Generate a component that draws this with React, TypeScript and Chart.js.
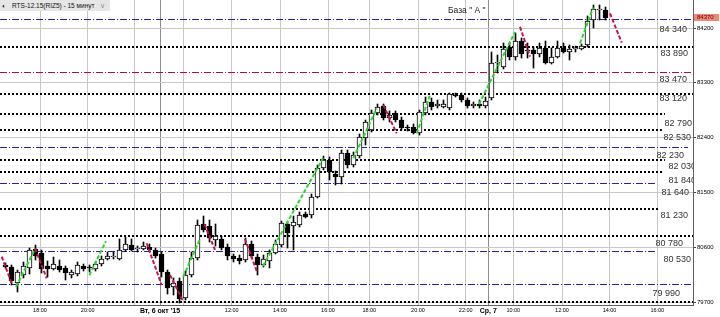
import React, { useEffect, useRef } from 'react';
import { Chart, registerables } from 'chart.js';

Chart.register(...registerables);

const FONT = '"Liberation Sans", Arial, sans-serif';

// 15-minute bars, index 0..100
const OPEN = [80310,80270,80010,80140,80260,80570,80500,80290,80250,80290,
80260,80140,80160,80290,80270,80250,80320,80410,80440,80410,
80560,80640,80570,80570,80610,80560,80490,80190,79950,80040,
79770,80140,80420,80980,80950,80720,80730,80600,80450,80420,
80390,80660,80440,80310,80370,80510,80640,80980,80950,80960,
81150,81130,81430,81900,82030,81810,81760,82140,81950,82090,
82390,82520,82800,82920,82720,82800,82690,82560,82580,82470,
82800,82990,82920,82910,82880,83100,83100,83010,82920,82950,
82920,83050,83630,83560,83880,83720,83990,83840,83840,83770,
83870,83630,83730,83870,83810,83850,83850,83920,84330,84500,
84500];
const HIGH = [80340,80310,80230,80360,80590,80640,80550,80370,80440,80390,
80290,80230,80350,80320,80310,80360,80460,80520,80520,80730,
80770,80730,80620,80680,80650,80590,80520,80230,80090,80090,
80210,80520,81050,81110,81050,80980,80780,80650,80490,80470,
80750,80700,80490,80470,80550,80720,81030,81010,81110,81180,
81180,81470,81950,82090,82080,81850,82200,82200,82160,82460,
82690,82850,82950,82960,82830,82840,82740,82610,82620,82850,
83070,83050,83020,83020,83130,83140,83130,83050,82980,83020,
83070,83810,83760,83950,83950,84120,84040,83950,83890,83950,
83980,83870,83980,83950,83920,83900,83940,84400,84580,84580,
84540];
const LOW = [80260,79980,79860,80090,80160,80390,80180,80110,80230,80190,
80060,80090,80130,80210,80190,80210,80290,80390,80410,80390,
80540,80540,80520,80550,80520,80420,80110,79830,79820,79680,
79730,80110,80390,80850,80690,80620,80550,80390,80360,80320,
80360,80420,80140,80270,80260,80490,80600,80590,80550,80930,
81080,81080,81410,81870,81700,81620,81640,81900,81920,82070,
82280,82490,82770,82690,82660,82660,82520,82510,82460,82440,
82770,82850,82890,82890,82850,83070,82980,82890,82890,82890,
82890,83020,83460,83530,83670,83670,83700,83710,83540,83720,
83610,83610,83710,83790,83670,83810,83840,83890,84200,84330,
84330];
const CLOSE = [80270,80040,80190,80290,80550,80460,80240,80240,80320,80230,
80180,80190,80300,80250,80260,80330,80410,80450,80440,80550,
80650,80550,80570,80620,80550,80460,80190,79930,80010,79750,
80140,80420,80960,80880,80750,80780,80590,80450,80410,80370,
80660,80450,80310,80410,80510,80660,80990,80840,81010,81130,
81100,81430,81900,82030,81840,81760,82140,81950,82110,82410,
82660,82800,82910,82720,82770,82690,82550,82550,82470,82820,
82990,82910,82950,82950,83120,83090,83010,82920,82950,82920,
83000,83630,83630,83850,83720,83990,83770,83830,83770,83870,
83620,83730,83870,83810,83850,83850,83900,84320,84510,84500,
84370];
const LAST_PRICE = 84370;

// time axis (positions in bar units)
const X_TICKS = [5.75, 13.7, 21.58, 25.75, 29.63, 37.7, 45.75, 53.75, 60.63, 68.75, 76.7, 80.47, 84.63, 92.75, 100.67, 108.63];
const X_TICK_LABELS = ['18:00', '20:00', '', "Вт, 6 окт '15", '', '12:00', '14:00', '16:00', '18:00', '20:00', '22:00', 'Ср, 7', '10:00', '12:00', '14:00', '16:00'];

// price axis
const Y_TICKS = [79700, 80600, 81500, 82400, 83300, 84200];

// horizontal levels
const LEVELS = [84340, 83890, 83470, 83120, 82790, 82530, 82230, 82030, 81840, 81640, 81230, 80780, 80530, 79990, 79700];
const LEVEL_KIND = ['blue', 'dot', 'red', 'dot', 'dot', 'dot', 'blue', 'dot', 'dot', 'blue', 'dot', 'dot', 'blue', 'blue', 'dot'];
const LEVEL_LABELS = ['84 340', '83 890', '83 470', '83 120', '82 790', '82 530', '82 230', '82 030', '81 840', '81 640', '81 230', '80 780', '80 530', '79 990', ''];
const LEVEL_END: (number | null)[] = [null, null, null, null, 109.9, 109.4, 113.75, 109.9, 109.6, 108.6, 108.75, null, 108.6, null, null];

// zigzag segments [x0, y0, x1, y1]
const UP_SEGMENTS = [
  [1.75, 79950, 4.92, 80570],
  [13.97, 80140, 16.75, 80700],
  [29.63, 80115, 32.42, 80735],
  [42.92, 80290, 52.92, 82065],
  [57.97, 82060, 61.87, 82880],
  [68.53, 82470, 70.75, 83100],
  [78.92, 82950, 84.92, 84135],
  [95.75, 83950, 97.97, 84540],
];
const DOWN_SEGMENTS = [
  [-0.63, 80445, 1.03, 80005],
  [4.92, 80580, 6.87, 80090],
  [23.53, 80665, 26.03, 79980],
  [27.42, 80145, 29.63, 79705],
  [33.17, 80975, 34.92, 80555],
  [39.92, 80735, 41.92, 80195],
  [62.97, 82935, 65.2, 82470],
  [85.75, 84220, 87.42, 83730],
  [100.75, 84440, 102.7, 83960],
];

// styling
const X_MIN = -5.5 / 6;
const X_MAX = X_MIN + 693 / 6;
const Y_MIN = 79651;
const Y_MAX = 84660;
const LABEL_DX = [-6, -5, -6, -6, -1, -2, -9, 3, 3, -4, -5, -10, -2, -13, 0];
// vertical offset of label centre below its line (px)
const LABEL_DY = [9.2, 5.5, 6, 4.5, 9.4, 7.3, 7.3, 5.5, 8.4, 8.3, 6, 6.3, 7.3, 8, 0];

function levelStyle(kind: string) {
  if (kind === 'blue') return { borderColor: '#2424a0', borderWidth: 1, borderDash: [7, 2, 1, 2] };
  if (kind === 'red') return { borderColor: '#b01035', borderWidth: 1, borderDash: [7, 2, 1, 2] };
  return { borderColor: '#000000', borderWidth: 2, borderDash: [2, 2] };
}

function segData(segs: number[][]) {
  const out: any[] = [];
  segs.forEach(([x0, y0, x1, y1]) => {
    out.push({ x: x0, y: y0 }, { x: x1, y: y1 }, { x: x1, y: null });
  });
  return out;
}

// snap level lines and candles to whole pixels so they stay crisp
const snapPlugin = {
  id: 'snapPixels',
  beforeDatasetsDraw(chart: any) {
    chart.data.datasets.forEach((ds: any, di: number) => {
      const meta = chart.getDatasetMeta(di);
      if (ds.snap === 'level') {
        const odd = (ds.borderWidth || 1) % 2 === 1;
        meta.data.forEach((pt: any) => {
          pt.y = odd ? Math.floor(pt.y) + 0.5 : Math.round(pt.y);
        });
      } else if (ds.snap === 'bar') {
        meta.data.forEach((b: any) => {
          let y = Math.round(b.y);
          const base = Math.round(b.base);
          if (y === base) y = base - 1;
          b.y = y;
          b.base = base;
        });
      }
    });
  },
};

const overlayPlugin = {
  id: 'overlayTexts',
  afterDatasetsDraw(chart: any) {
    const { ctx, chartArea, scales } = chart;
    const ys = scales.y;
    ctx.save();
    ctx.beginPath();
    ctx.rect(chartArea.left, chartArea.top, chartArea.right - chartArea.left, chartArea.bottom - chartArea.top);
    ctx.clip();
    ctx.font = '9px ' + FONT;
    ctx.fillStyle = '#333333';
    ctx.textAlign = 'right';
    ctx.textBaseline = 'alphabetic';
    LEVELS.forEach((v, k) => {
      const t = LEVEL_LABELS[k];
      if (!t) return;
      ctx.fillText(t, chartArea.right + LABEL_DX[k], ys.getPixelForValue(v) + LABEL_DY[k] + 3.2);
    });
    ctx.restore();
  },
  afterDraw(chart: any) {
    const { ctx, chartArea, scales } = chart;
    const y = scales.y.getPixelForValue(LAST_PRICE);
    ctx.save();
    ctx.fillStyle = '#f08878';
    ctx.fillRect(chartArea.right + 1, Math.round(y - 3.5), 25, 7);
    ctx.font = '6px ' + FONT;
    ctx.fillStyle = '#5a0000';
    ctx.textAlign = 'left';
    ctx.textBaseline = 'middle';
    ctx.fillText(String(LAST_PRICE), chartArea.right + 4, y);
    ctx.restore();
  },
};

export default function App() {
  const ref = useRef<HTMLCanvasElement>(null);

  useEffect(() => {
    const canvas = ref.current;
    if (!canvas) return;

    const bodyColors = OPEN.map((o, i) => (CLOSE[i] >= o ? '#ffffff' : '#000000'));

    const levelDatasets = LEVELS.map((v, k) => ({
      type: 'line' as const,
      data: [
        { x: X_MIN - 2, y: v },
        { x: LEVEL_END[k] ?? X_MAX + 2, y: v },
      ],
      ...levelStyle(LEVEL_KIND[k]),
      pointRadius: 0,
      fill: false,
      order: 20,
      snap: 'level',
    }));

    const chart = new Chart(canvas, {
      type: 'bar',
      data: {
        datasets: [
          ...levelDatasets,
          {
            type: 'bar' as const,
            data: OPEN.map((_, i) => ({ x: i, y: [LOW[i], HIGH[i]] })),
            backgroundColor: '#000000',
            borderWidth: 0,
            barThickness: 1,
            grouped: false,
            order: 5,
            snap: 'bar',
          },
          {
            type: 'bar' as const,
            data: OPEN.map((o, i) => ({ x: i, y: [o, CLOSE[i]] })),
            backgroundColor: bodyColors,
            borderColor: '#000000',
            borderWidth: 1,
            borderSkipped: false,
            barThickness: 5,
            minBarLength: 1,
            grouped: false,
            order: 4,
            snap: 'bar',
          },
          {
            type: 'line' as const,
            data: segData(UP_SEGMENTS),
            borderColor: '#2ad82a',
            borderWidth: 2,
            borderDash: [4, 2],
            pointRadius: 0,
            spanGaps: false,
            fill: false,
            order: 1,
          },
          {
            type: 'line' as const,
            data: segData(DOWN_SEGMENTS),
            borderColor: '#cc1050',
            borderWidth: 2,
            borderDash: [4, 2],
            pointRadius: 0,
            spanGaps: false,
            fill: false,
            order: 1,
          },
        ] as any,
      },
      options: {
        animation: false,
        responsive: false,
        devicePixelRatio: 1,
        layout: { padding: 0 },
        plugins: {
          legend: { display: false },
          tooltip: { enabled: false },
          title: { display: false },
        },
        scales: {
          x: {
            type: 'linear',
            position: 'bottom',
            min: X_MIN,
            max: X_MAX,
            offset: false,
            afterBuildTicks: (scale: any) => {
              scale.ticks = X_TICKS.map((v) => ({ value: v }));
            },
            afterFit: (scale: any) => {
              scale.height = 12;
              scale.paddingLeft = 0;
              scale.paddingRight = 0;
            },
            ticks: {
              autoSkip: false,
              maxRotation: 0,
              minRotation: 0,
              padding: 2,
              color: '#000000',
              callback: (_v: any, i: number) => X_TICK_LABELS[i],
              font: (ctx: any) => {
                const lbl = X_TICK_LABELS[ctx.index] || '';
                return lbl.includes(',')
                  ? { family: FONT, size: 7, weight: 'bold' }
                  : { family: FONT, size: 5.5, weight: 'normal' };
              },
            },
            grid: {
              offset: false,
              drawTicks: false,
              color: (ctx: any) => {
                const lbl = X_TICK_LABELS[ctx.index] || '';
                return lbl.includes(',') ? '#8c8c8c' : '#c8c8c8';
              },
            },
            border: { display: true, color: '#606060' },
          },
          y: {
            type: 'linear',
            position: 'right',
            min: Y_MIN,
            max: Y_MAX,
            beginAtZero: false,
            afterBuildTicks: (scale: any) => {
              scale.ticks = Y_TICKS.map((v) => ({ value: v }));
            },
            afterFit: (scale: any) => {
              scale.width = 27;
              scale.paddingTop = 0;
              scale.paddingBottom = 0;
            },
            ticks: {
              padding: 1,
              color: '#000000',
              font: { family: FONT, size: 6 },
              callback: (v: any) => String(v),
            },
            grid: {
              color: '#c8c8c8',
              tickLength: 3,
              tickColor: '#404040',
            },
            border: { display: true, color: '#606060' },
          },
        },
      } as any,
      plugins: [snapPlugin, overlayPlugin],
    });

    return () => chart.destroy();
  }, []);

  return (
    <div style={{ position: 'absolute', left: 0, top: 0, width: 720, height: 317, background: '#ffffff', overflow: 'hidden' }}>
      <canvas ref={ref} width={720} height={317} style={{ display: 'block' }} />
      <div
        style={{
          position: 'absolute', left: 0, top: 0, width: 110, height: 11,
          background: '#e6e6e6', fontFamily: FONT, fontSize: '6.5px', lineHeight: '11px',
          whiteSpace: 'nowrap', color: '#111111', pointerEvents: 'none',
        }}
      >
        <span style={{ position: 'absolute', left: 2, top: 0 }}>◐</span>
        <span style={{ position: 'absolute', left: 12, top: 0 }}>RTS-12.15(RIZ5) - 15 минут</span>
        <span style={{ position: 'absolute', left: 100, top: 0, color: '#909090' }}>∨</span>
      </div>
      <div
        style={{
          position: 'absolute', left: 448, top: 4, fontFamily: FONT, fontSize: '8.5px',
          lineHeight: '12px', whiteSpace: 'nowrap', color: '#222222', pointerEvents: 'none',
        }}
      >
        База " А "
      </div>
    </div>
  );
}
